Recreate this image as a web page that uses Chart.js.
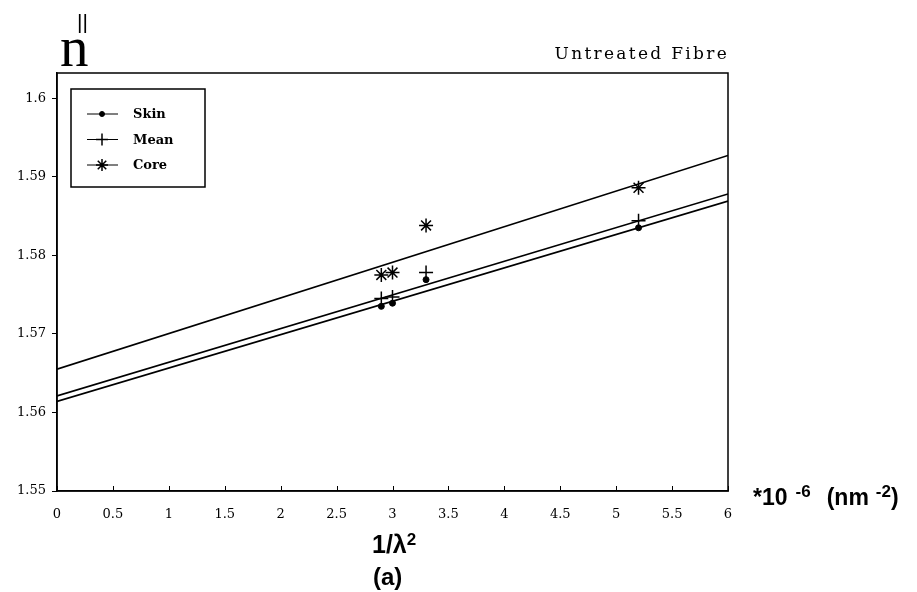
<!DOCTYPE html>
<html lang="en-GB">
<head>
  <meta charset="utf-8">
  <title>Untreated Fibre</title>
  <script src="https://cdn.jsdelivr.net/npm/chart.js"></script>
  <style>
    body { margin: 0; background: #fff; }
    #wrap { position: relative; width: 917px; height: 592px; }
    #c { position: absolute; left: 0; top: 0; }
    .lbl { position: absolute; color: #000; white-space: nowrap; line-height: 1; }
    .sans { font-family: 'Liberation Sans', Arial, sans-serif; font-weight: bold; }
    .lbl sup { font-size: 0.68em; vertical-align: 0.5em; line-height: 0; }
    #unit sup { font-size: 0.74em; }
  </style>
</head>
<body>
<div id="wrap">
  <canvas id="c" width="917" height="592"></canvas>
  <div class="lbl" style="left:60px; top:18px; font: 57px 'Liberation Serif', serif; line-height:1;">n</div>
  <div class="lbl" style="left:77px; top:11px; font: 21px 'Liberation Sans', sans-serif; line-height:1;">||</div>
  <div class="lbl" style="right:188px; top:45px; font: 17px 'DejaVu Serif', serif; line-height:1; letter-spacing:2.3px;">Untreated Fibre</div>
  <div class="lbl sans" id="unit" style="left:753px; top:486px; font-size:23px;">*10<sup style="margin-left:8px">-6</sup><span style="margin-left:16px">(nm</span><sup style="margin-left:7px">-2</sup>)</div>
  <div class="lbl sans" style="left:372px; top:532px; font-size:25px;">1/&lambda;<sup>2</sup></div>
  <div class="lbl sans" style="left:373px; top:565px; font-size:24px;">(a)</div>
</div>

<script>
  // measured points (x in 10^-6 nm^-2)
  const xValues = [2.9, 3.0, 3.3, 5.2];
  const skinValues = [1.5735, 1.5739, 1.5769, 1.5835];
  const meanValues = [1.5745, 1.5747, 1.5778, 1.5844];
  const coreValues = [1.5775, 1.5778, 1.5838, 1.5886];

  // fitted lines, read at both ends of the axis
  const fitX = [0, 6];
  const skinFit = [1.5614, 1.5869];
  const meanFit = [1.5621, 1.5878];
  const coreFit = [1.5655, 1.5927];

  const seriesNames = ['Skin', 'Mean', 'Core'];
  const xMin = 0, xMax = 6, xStep = 0.5;
  const yMin = 1.55, yMax = 1.6032, yStep = 0.01;

  const pts = (xs, ys) => xs.map((x, i) => ({ x: x, y: ys[i] }));

  function fitLine(ys) {
    return {
      type: 'line',
      data: pts(fitX, ys),
      borderColor: '#000',
      borderWidth: 1.6,
      pointRadius: 0,
      showLine: true,
      fill: false,
      inLegend: false,
    };
  }

  const marks = [
    { label: seriesNames[0], data: pts(xValues, skinValues), pointStyle: 'circle', pointRadius: 3, pointBorderWidth: 1 },
    { label: seriesNames[1], data: pts(xValues, meanValues), pointStyle: 'cross', pointRadius: 7, pointBorderWidth: 1.5 },
    { label: seriesNames[2], data: pts(xValues, coreValues), pointStyle: 'star', pointRadius: 7, pointBorderWidth: 1.5 },
  ].map(d => Object.assign(d, {
    backgroundColor: '#000',
    borderColor: '#000',
    showLine: false,
    inLegend: true,
  }));

  // box round the plot, inward ticks on x, legend box in the corner
  const decor = {
    id: 'decor',
    afterDraw(chart) {
      const ctx = chart.ctx;
      const a = chart.chartArea;
      ctx.save();
      ctx.strokeStyle = '#000';
      ctx.lineWidth = 1.5;
      ctx.strokeRect(a.left, a.top, a.right - a.left, a.bottom - a.top);

      const xs = chart.scales.x;
      ctx.lineWidth = 1;
      ctx.beginPath();
      xs.ticks.forEach(t => {
        const px = Math.round(xs.getPixelForValue(t.value)) + 0.5;
        ctx.moveTo(px, a.bottom);
        ctx.lineTo(px, a.bottom - 5);
      });
      ctx.stroke();

      // legend
      const lx = a.left + 14, ly = a.top + 16, lw = 134, lh = 98;
      ctx.lineWidth = 1.5;
      ctx.strokeRect(lx, ly, lw, lh);
      ctx.font = "bold 13px 'DejaVu Serif', serif";
      ctx.textBaseline = 'middle';
      ctx.fillStyle = '#000';
      const items = chart.data.datasets.filter(d => d.inLegend);
      items.forEach((d, i) => {
        const y = ly + 25 + i * 25.5;
        ctx.lineWidth = 1;
        ctx.beginPath();
        ctx.moveTo(lx + 16, y);
        ctx.lineTo(lx + 47, y);
        ctx.stroke();
        ctx.lineWidth = d.pointBorderWidth;
        Chart.helpers.drawPoint(ctx, {
          pointStyle: d.pointStyle,
          radius: d.pointStyle === 'circle' ? 2.5 : 6,
          rotation: 0,
          borderWidth: d.pointBorderWidth,
        }, lx + 31, y);
        ctx.fillText(d.label, lx + 62, y + 1);
      });
      ctx.restore();
    }
  };

  const ctx = document.getElementById('c').getContext('2d');
  Chart.defaults.font.family = "'DejaVu Serif', serif";
  Chart.defaults.font.size = 13;
  Chart.defaults.color = '#000';

  new Chart(ctx, {
    type: 'scatter',
    data: {
      datasets: [fitLine(skinFit), fitLine(meanFit), fitLine(coreFit)].concat(marks),
    },
    options: {
      responsive: false,
      animation: false,
      layout: { padding: { left: 0, top: 73, right: 189, bottom: 71 } },
      plugins: {
        legend: { display: false },
        tooltip: { enabled: false },
      },
      scales: {
        x: {
          type: 'linear',
          min: xMin,
          max: xMax,
          afterFit: s => { s.height = 30; },
          grid: { display: false, drawTicks: false },
          border: { display: true, color: '#000', width: 1.5 },
          ticks: {
            stepSize: xStep,
            padding: 16,
            maxRotation: 0,
            autoSkip: false,
            callback: v => String(+v.toFixed(1)),
          },
        },
        y: {
          type: 'linear',
          min: yMin,
          max: yMax,
          afterFit: s => { s.width = 57; },
          grid: { drawOnChartArea: false, drawTicks: true, tickLength: 5, color: '#000' },
          border: { display: true, color: '#000', width: 1.5 },
          ticks: {
            stepSize: yStep,
            includeBounds: false,
            padding: 6,
            callback: v => String(+v.toFixed(2)),
          },
        },
      },
    },
    plugins: [decor],
  });
</script>
</body>
</html>
